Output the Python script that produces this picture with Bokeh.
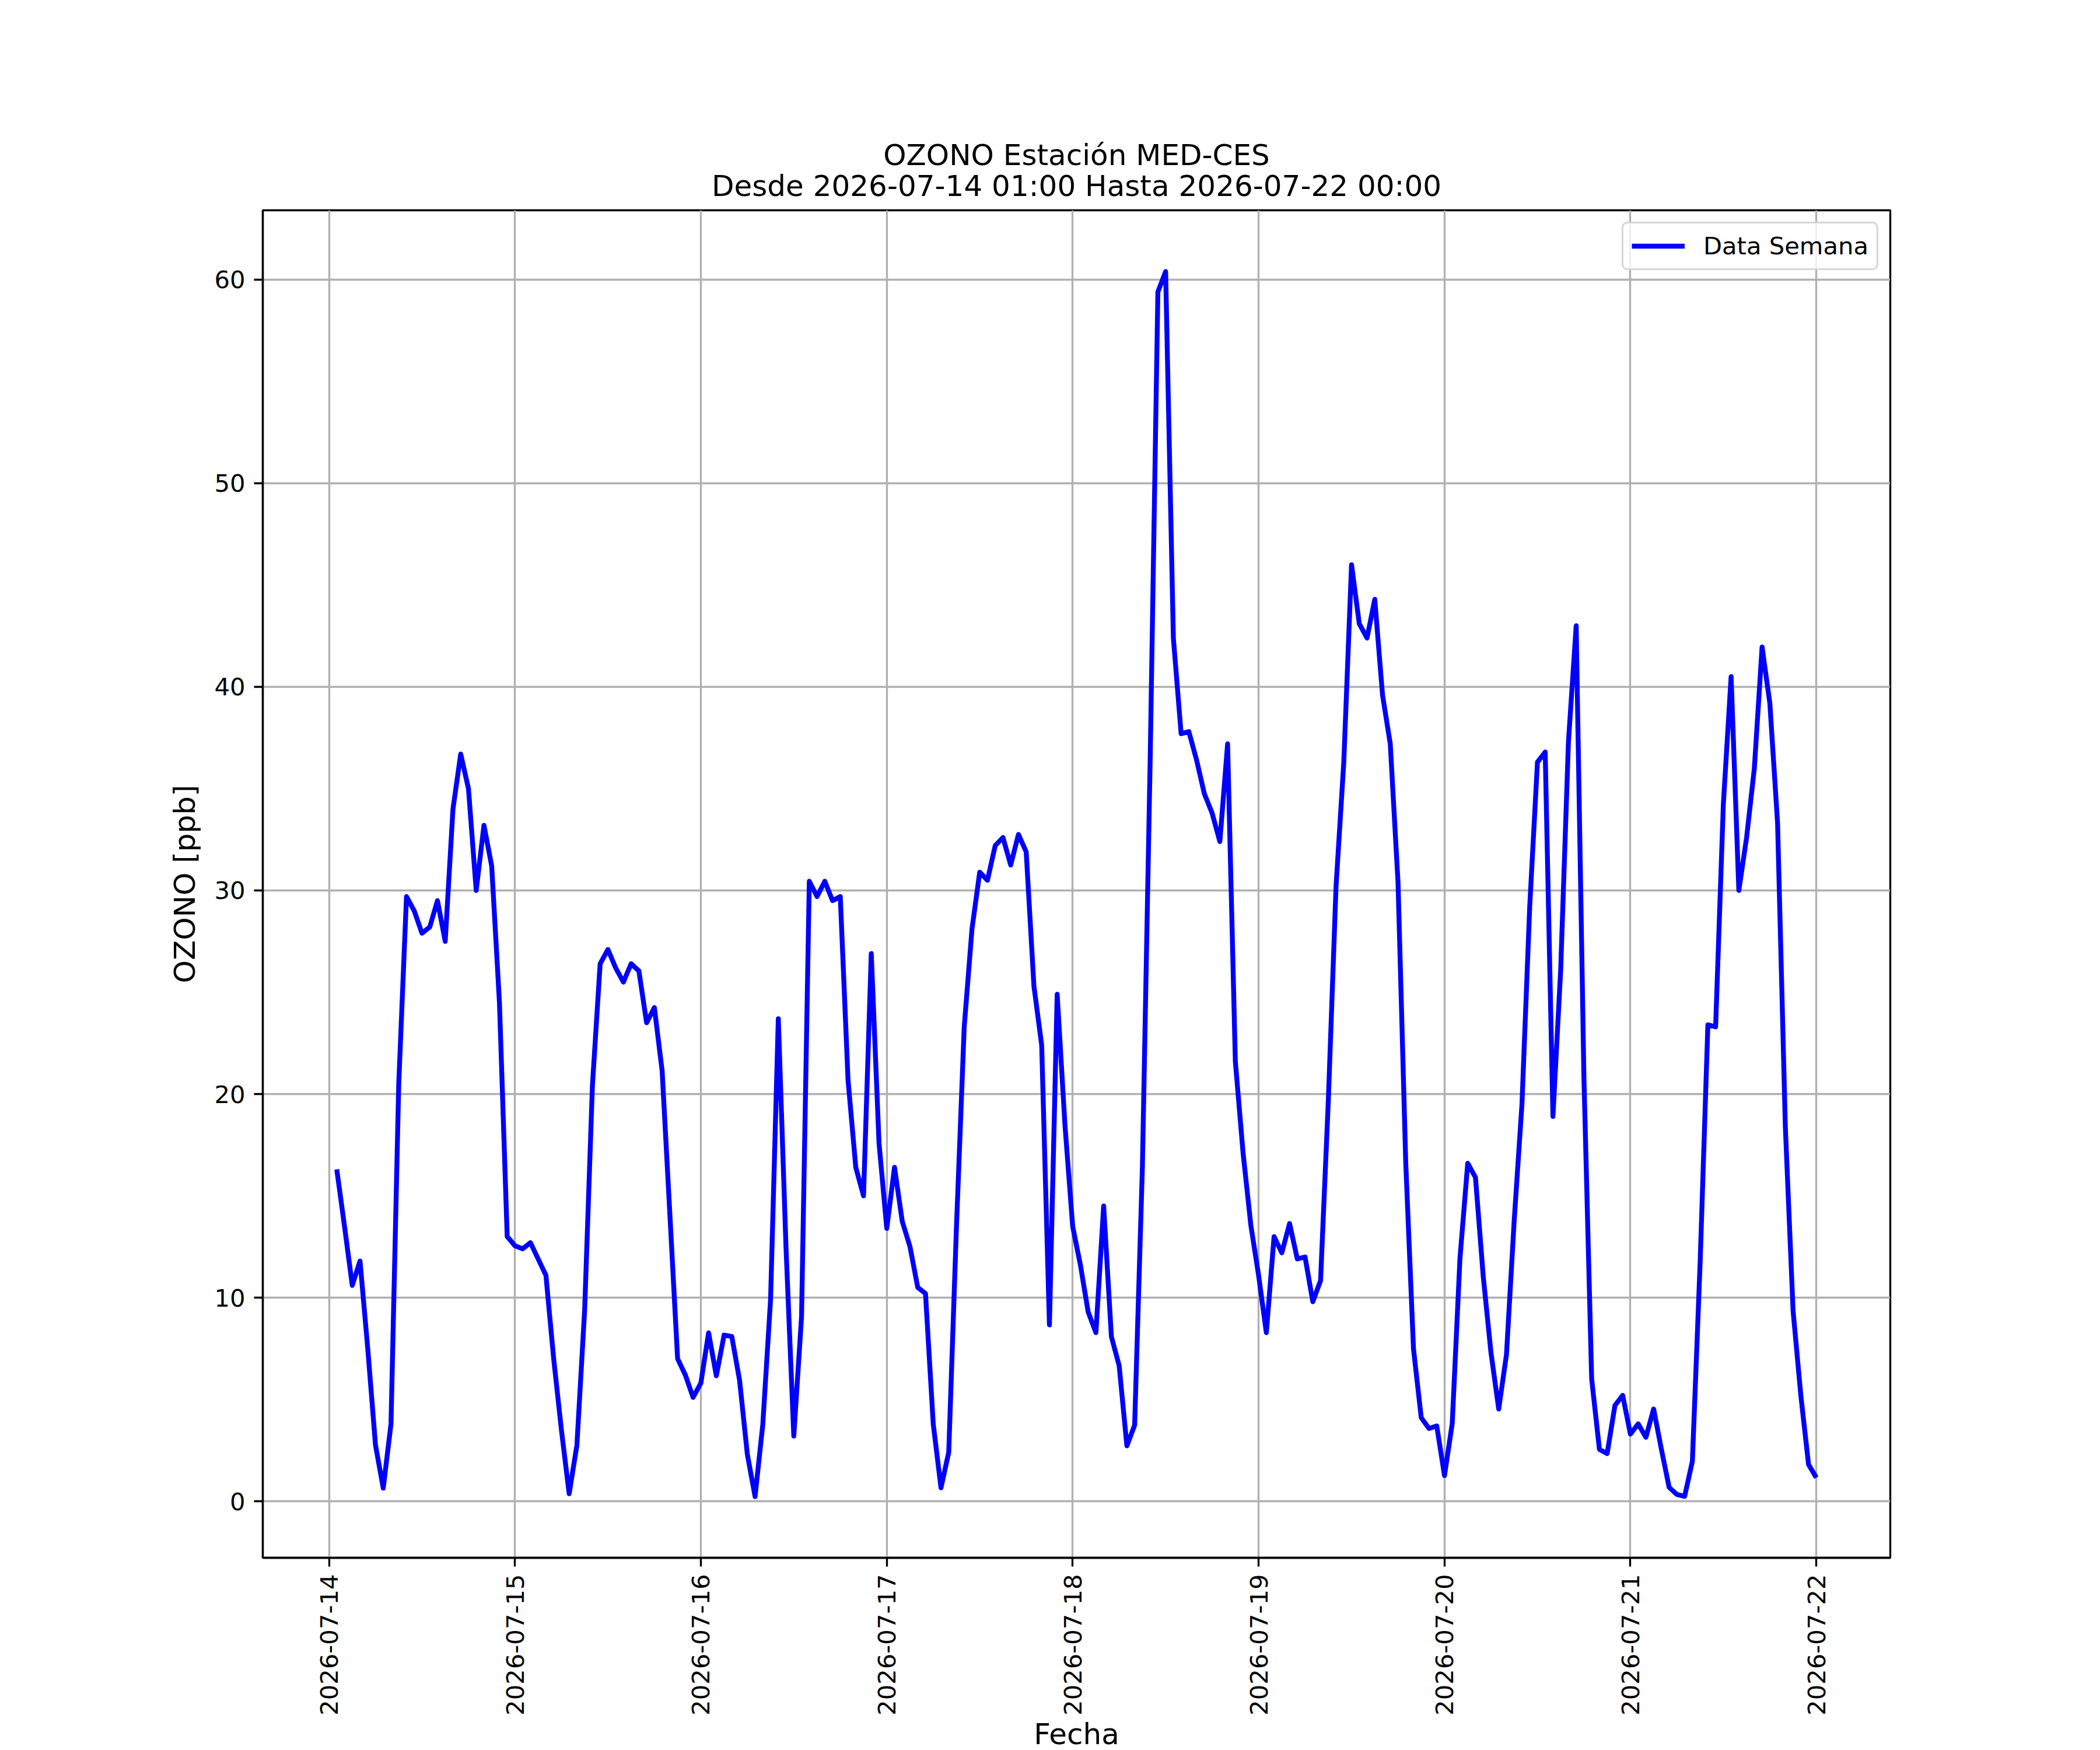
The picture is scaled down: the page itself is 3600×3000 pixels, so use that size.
import math
import pandas as pd
from bokeh.plotting import figure
from bokeh.models import (Range1d, FixedTicker, DatetimeTickFormatter, Title,
                          Legend, LegendItem, ColumnDataSource)
from bokeh.embed import file_html
from bokeh.resources import INLINE

# ---------------- data ----------------
title_line1 = "OZONO Estación MED-CES"
title_line2 = "Desde 2026-07-14 01:00 Hasta 2026-07-22 00:00"
x_label = "Fecha"
y_label = "OZONO [ppb]"
series_name = "Data Semana"

start_time = "2026-07-14 01:00"
day_ticks = ["2026-07-14", "2026-07-15", "2026-07-16", "2026-07-17", "2026-07-18",
             "2026-07-19", "2026-07-20", "2026-07-21", "2026-07-22"]
y_ticks = [0, 10, 20, 30, 40, 50, 60]

# hourly values, each block: 01:00 .. 24:00 (next day's 00:00)
day_0714 = [16.3, 13.5, 10.6, 11.8, 7.5, 2.75, 0.64, 3.8, 20.5, 29.7, 29.0, 27.9,
            28.2, 29.5, 27.5, 34.0, 36.7, 35.0, 30.0, 33.2, 31.2, 24.5, 13.0, 12.55]
day_0715 = [12.4, 12.7, 11.9, 11.1, 7.0, 3.5, 0.37, 2.75, 9.4, 20.4, 26.4, 27.1,
            26.2, 25.5, 26.4, 26.05, 23.5, 24.25, 21.15, 14.1, 7.0, 6.2, 5.1, 5.8]
day_0716 = [8.27, 6.16, 8.16, 8.09, 5.94, 2.31, 0.23, 3.78, 9.9, 23.7, 12.4, 3.2,
            9.06, 30.45, 29.7, 30.45, 29.5, 29.7, 20.7, 16.4, 15.0, 26.9, 17.6, 13.4]
day_0717 = [16.4, 13.75, 12.5, 10.5, 10.2, 3.8, 0.66, 2.4, 13.5, 23.3, 28.1, 30.9,
            30.5, 32.2, 32.6, 31.25, 32.75, 31.9, 25.3, 22.4, 8.66, 24.9, 18.5, 13.5]
day_0718 = [11.6, 9.3, 8.28, 14.5, 8.08, 6.66, 2.72, 3.74, 16.4, 36.3, 59.4, 60.4,
            42.4, 37.7, 37.8, 36.4, 34.75, 33.8, 32.4, 37.2, 21.6, 17.1, 13.56, 11.1]
day_0719 = [8.28, 13.0, 12.2, 13.64, 11.9, 12.0, 9.8, 10.84, 19.65, 30.2, 36.3, 46.0,
            43.1, 42.4, 44.3, 39.6, 37.2, 30.4, 16.6, 7.47, 4.1, 3.57, 3.7, 1.26]
day_0720 = [3.82, 11.94, 16.6, 15.9, 11.05, 7.3, 4.53, 7.2, 13.8, 19.5, 29.2, 36.3,
            36.8, 18.9, 26.1, 37.3, 43.0, 20.8, 6.0, 2.55, 2.34, 4.7, 5.2, 3.3]
day_0721 = [3.8, 3.14, 4.53, 2.55, 0.68, 0.33, 0.24, 1.96, 11.7, 23.4, 23.3, 34.25,
            40.5, 30.0, 32.6, 36.0, 41.96, 39.2, 33.3, 18.4, 9.36, 5.2, 1.8, 1.16]

ozono = day_0714 + day_0715 + day_0716 + day_0717 + day_0718 + day_0719 + day_0720 + day_0721
times = pd.date_range(start_time, periods=len(ozono), freq="h")

# ---------------- style ----------------
FONT = "DejaVu Sans"
PT = 300 / 72.0  # px per point (matplotlib dpi 300)

# matplotlib-like 5% auto margins
t0, t1 = times[0], times[-1]
tpad = (t1 - t0) * 0.05
vmin, vmax = min(ozono), max(ozono)
vpad = (vmax - vmin) * 0.05

src = ColumnDataSource(dict(t=times, v=ozono))

p = figure(frame_width=2790, frame_height=2310,
           min_border_left=450, min_border_right=360,
           min_border_top=360, min_border_bottom=330,
           x_axis_type="datetime",
           x_range=Range1d(t0 - tpad, t1 + tpad),
           y_range=Range1d(vmin - vpad, vmax + vpad),
           output_backend="svg", toolbar_location=None, title=None)
p.background_fill_color = "white"
p.border_fill_color = "white"
p.outline_line_color = "black"
p.outline_line_width = 0.8 * PT

r = p.line("t", "v", source=src, line_color="blue", line_width=2.0 * PT,
           line_join="round")

# titles (first added is closest to the frame)
t2 = Title(text=title_line2, align="center", text_font=FONT,
           text_font_size="50px", text_font_style="normal", text_color="black",
           standoff=26)
t1_ = Title(text=title_line1, align="center", text_font=FONT,
            text_font_size="50px", text_font_style="normal", text_color="black",
            standoff=-40)
p.add_layout(t2, "above")
p.add_layout(t1_, "above")

# axes
tick_ms = [pd.Timestamp(d).value // 10**6 for d in day_ticks]
p.xaxis.ticker = FixedTicker(ticks=tick_ms)
fmt = "%Y-%m-%d"
p.xaxis.formatter = DatetimeTickFormatter(days=fmt, months=fmt, hours=fmt,
                                          hourmin=fmt, minutes=fmt, years=fmt)
p.xaxis.major_label_orientation = math.pi / 2
p.yaxis.ticker = FixedTicker(ticks=y_ticks)

for ax in (p.xaxis, p.yaxis):
    ax.axis_line_color = "black"
    ax.axis_line_width = 0.8 * PT
    ax.major_tick_line_color = "black"
    ax.major_tick_line_width = 0.8 * PT
    ax.major_tick_out = 15
    ax.major_tick_in = 0
    ax.minor_tick_line_color = None
    ax.major_label_standoff = 15
    ax.major_label_text_font = FONT
    ax.major_label_text_font_size = "41.7px"
    ax.major_label_text_color = "black"
    ax.axis_label_text_font = FONT
    ax.axis_label_text_font_size = "50px"
    ax.axis_label_text_font_style = "normal"
    ax.axis_label_text_color = "black"

p.xaxis.axis_label = x_label
p.yaxis.axis_label = y_label
p.xaxis.major_label_standoff = 13
p.xaxis.axis_label_standoff = 0
p.yaxis.axis_label_standoff = 18

for g in (p.xgrid, p.ygrid):
    g.grid_line_color = "#b0b0b0"
    g.grid_line_width = 0.8 * PT
p.xgrid.ticker = p.xaxis.ticker
p.ygrid.ticker = p.yaxis.ticker

legend = Legend(items=[LegendItem(label=series_name, renderers=[r])],
                location="top_right", margin=20, padding=14,
                glyph_width=91, glyph_height=49, label_height=49,
                label_standoff=32,
                label_text_font=FONT, label_text_font_size="41.7px",
                label_text_color="black",
                border_line_color="#cccccc", border_line_width=0.8 * PT,
                border_line_alpha=0.8, border_radius=10,
                background_fill_color="white", background_fill_alpha=0.8)
p.add_layout(legend)

open("out.html", "w").write(file_html(p, INLINE))
